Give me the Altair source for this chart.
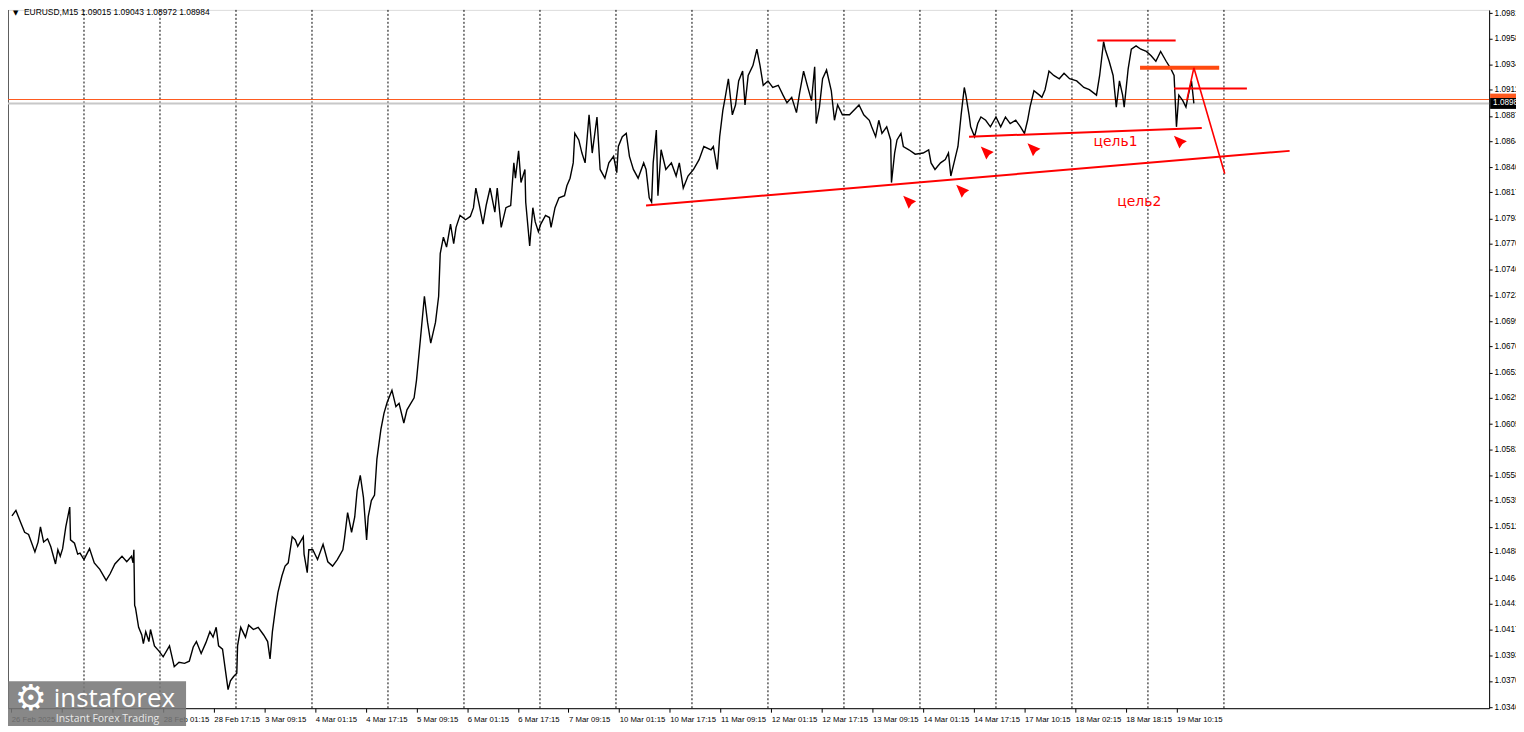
import altair as alt
import pandas as pd

# ---------------- data ----------------
# M15 bar index (time axis) and price path of EURUSD
bars = [5, 10, 16, 21, 26, 34, 38, 41, 45, 50, 54, 60, 63, 66, 69, 73, 78, 79, 84, 88, 91, 96, 103, 109, 116, 124,
        129, 135, 144, 150, 156, 158, 159, 160, 161, 165, 169, 171, 174, 178, 180, 185, 191, 196, 204, 210, 216, 223,
        229, 234, 238, 244, 250, 255, 259, 263, 266, 271, 274, 278, 281, 285, 289, 290, 294, 300, 304, 310, 316, 323,
        328, 331, 334, 338, 341, 346, 350, 354, 359, 363, 366, 373, 374, 378, 380, 385, 391, 398, 404, 410, 416, 423,
        425, 429, 434, 438, 441, 445, 449, 453, 455, 459, 463, 466, 471, 475, 479, 485, 490, 494, 500, 504, 513, 516,
        521, 526, 530, 534, 540, 544, 546, 550, 554, 559, 563, 566, 571, 578, 584, 588, 591, 596, 600, 604, 609, 615,
        618, 623, 629, 635, 639, 641, 645, 648, 653, 654, 659, 663, 666, 670, 673, 679, 684, 686, 691, 696, 703, 706,
        710, 714, 716, 721, 725, 729, 734, 738, 744, 748, 754, 759, 765, 769, 771, 776, 781, 785, 790, 796, 803, 806,
        810, 813, 815, 819, 821, 825, 831, 838, 844, 848, 853, 859, 866, 873, 879, 888, 891, 896, 899, 903, 906, 910,
        915, 919, 923, 928, 931, 935, 941, 946, 950, 954, 960, 966, 973, 979, 984, 990, 996, 1000, 1005, 1010, 1015,
        1019, 1021, 1025, 1029, 1034, 1040, 1044, 1048, 1054, 1063, 1075, 1081, 1088, 1091, 1096, 1100, 1104, 1110,
        1115, 1116, 1120, 1123, 1128, 1131, 1138, 1146, 1156, 1163, 1166, 1171, 1178, 1184, 1188, 1191, 1196, 1200,
        1204, 1208, 1210, 1214, 1216, 1221, 1225, 1229, 1235, 1241, 1248, 1254, 1260, 1266, 1273, 1279, 1284, 1288,
        1291, 1296, 1303, 1306, 1310, 1315, 1321, 1328, 1334, 1341, 1350, 1359, 1366, 1375, 1379, 1384, 1386, 1391,
        1396, 1400, 1404, 1408, 1410, 1415, 1419, 1425, 1431, 1438, 1444, 1450, 1456, 1463, 1469, 1473, 1476, 1479,
        1484, 1488, 1491, 1495, 1498]
prices = [1.0521, 1.0526, 1.0515, 1.0506, 1.0504, 1.0488, 1.0497, 1.0511, 1.0497, 1.0500, 1.0493, 1.0477, 1.0490,
          1.0484, 1.0491, 1.0511, 1.0529, 1.0499, 1.0496, 1.0486, 1.0487, 1.0481, 1.0491, 1.0478, 1.0472, 1.0462,
          1.0468, 1.0477, 1.0484, 1.0479, 1.0484, 1.0478, 1.0490, 1.0439, 1.0437, 1.0419, 1.0412, 1.0404, 1.0415,
          1.0406, 1.0417, 1.0402, 1.0397, 1.0392, 1.0402, 1.0383, 1.0387, 1.0386, 1.0388, 1.0401, 1.0406, 1.0395,
          1.0405, 1.0415, 1.0410, 1.0419, 1.0402, 1.0399, 1.0383, 1.0362, 1.0370, 1.0374, 1.0377, 1.0402, 1.0419,
          1.0410, 1.0421, 1.0417, 1.0419, 1.0412, 1.0406, 1.0390, 1.0415, 1.0437, 1.0451, 1.0466, 1.0475, 1.0478,
          1.0502, 1.0499, 1.0493, 1.0502, 1.0486, 1.0469, 1.0490, 1.0490, 1.0481, 1.0495, 1.0479, 1.0475, 1.0481,
          1.0490, 1.0500, 1.0524, 1.0506, 1.0520, 1.0544, 1.0558, 1.0538, 1.0499, 1.0520, 1.0535, 1.0540, 1.0573,
          1.0600, 1.0615, 1.0625, 1.0636, 1.0621, 1.0624, 1.0606, 1.0618, 1.0629, 1.0645, 1.0683, 1.0722, 1.0698,
          1.0679, 1.0698, 1.0722, 1.0761, 1.0776, 1.0767, 1.0788, 1.0770, 1.0785, 1.0796, 1.0792, 1.0795, 1.0803,
          1.0821, 1.0803, 1.0788, 1.0805, 1.0821, 1.0799, 1.0821, 1.0785, 1.0803, 1.0805, 1.0844, 1.0830, 1.0855,
          1.0826, 1.0838, 1.0808, 1.0768, 1.0803, 1.0790, 1.0781, 1.0788, 1.0796, 1.0794, 1.0785, 1.0803, 1.0812,
          1.0814, 1.0823, 1.0830, 1.0844, 1.0871, 1.0865, 1.0853, 1.0844, 1.0888, 1.0853, 1.0886, 1.0838, 1.0830,
          1.0844, 1.0850, 1.0835, 1.0859, 1.0868, 1.0871, 1.0850, 1.0838, 1.0830, 1.0844, 1.0838, 1.0812, 1.0808,
          1.0844, 1.0874, 1.0814, 1.0856, 1.0838, 1.0844, 1.0832, 1.0844, 1.0821, 1.0832, 1.0838, 1.0847, 1.0859,
          1.0856, 1.0859, 1.0838, 1.0868, 1.0892, 1.0904, 1.0921, 1.0888, 1.0897, 1.0919, 1.0928, 1.0897, 1.0924,
          1.0933, 1.0948, 1.0933, 1.0915, 1.0919, 1.0913, 1.0915, 1.0906, 1.0899, 1.0904, 1.0890, 1.0908, 1.0928,
          1.0914, 1.0901, 1.0932, 1.0880, 1.0895, 1.0921, 1.0929, 1.0910, 1.0883, 1.0897, 1.0888, 1.0888, 1.0897,
          1.0888, 1.0883, 1.0877, 1.0868, 1.0883, 1.0871, 1.0877, 1.0865, 1.0826, 1.0853, 1.0865, 1.0871, 1.0859,
          1.0856, 1.0852, 1.0853, 1.0856, 1.0844, 1.0838, 1.0844, 1.0847, 1.0853, 1.0832, 1.0847, 1.0859, 1.0888,
          1.0913, 1.0906, 1.0888, 1.0877, 1.0868, 1.0880, 1.0886, 1.0883, 1.0877, 1.0886, 1.0877, 1.0886, 1.0880,
          1.0883, 1.0877, 1.0871, 1.0883, 1.0895, 1.0910, 1.0906, 1.0904, 1.0911, 1.0928, 1.0924, 1.0921, 1.0926,
          1.0921, 1.0919, 1.0913, 1.0911, 1.0906, 1.0924, 1.0955, 1.0948, 1.0937, 1.0924, 1.0895, 1.0919, 1.0906,
          1.0895, 1.0930, 1.0948, 1.0951, 1.0948, 1.0946, 1.0942, 1.0937, 1.0946, 1.0937, 1.0930, 1.0924, 1.0877,
          1.0906, 1.0901, 1.0895, 1.0906, 1.0919, 1.08984]

# time-axis labels (every 64 M15 bars)
x_labels = ["26 Feb 2025", "26 Feb 17:15", "27 Feb 09:15", "28 Feb 01:15", "28 Feb 17:15", "3 Mar 09:15",
            "4 Mar 01:15", "4 Mar 17:15", "5 Mar 09:15", "6 Mar 01:15", "6 Mar 17:15", "7 Mar 09:15",
            "10 Mar 01:15", "10 Mar 17:15", "11 Mar 09:15", "12 Mar 01:15", "12 Mar 17:15", "13 Mar 09:15",
            "14 Mar 01:15", "14 Mar 17:15", "17 Mar 10:15", "18 Mar 02:15", "18 Mar 18:15", "19 Mar 10:15"]
x_label_bars = [4 + 64 * j for j in range(len(x_labels))]
# day separators (dotted grid)
grid_bars = [96 * k for k in range(1, 17)]
# price-axis labels
y_labels = [1.0981, 1.0958, 1.0934, 1.0911, 1.0887, 1.0864, 1.0840, 1.0817, 1.0793, 1.0770, 1.0746, 1.0723,
            1.0699, 1.0676, 1.0652, 1.0629, 1.0605, 1.0582, 1.0558, 1.0535, 1.0511, 1.0488, 1.0464, 1.0441,
            1.0417, 1.0393, 1.0370, 1.0346]

bid_price = 1.08984
ask_line = 1.0902

# drawn objects: thin red segments (bar1, price1, bar2, price2)
red_seg_x1 = [806, 1214, 1376, 1473]
red_seg_y1 = [1.0805, 1.0868, 1.0956, 1.0912]
red_seg_x2 = [1619, 1508, 1475, 1565]
red_seg_y2 = [1.0855, 1.0876, 1.0956, 1.0912]
# thick orange level
orange_x1, orange_x2, orange_y = 1430, 1530, 1.0931
# projected move polyline
proj_bars = [1489, 1498, 1537]
proj_prices = [1.0901, 1.0931, 1.0834]
# arrow markers
arrow_bars = [1139, 1206, 1237, 1296, 1481]
arrow_prices = [1.0808, 1.0818, 1.0853, 1.0856, 1.0863]
# target labels
target_text = ["цель1", "цель2"]
target_bars = [1399, 1429]
target_prices = [1.0859, 1.0805]

# ---------------- chart ----------------
W, H = 1489, 702
XMAX = 1871
YMIN, YMAX = 1.0345, 1.0984
FONT = "Liberation Sans"

xs = alt.Scale(domain=[0, XMAX], nice=False, zero=False)
ys = alt.Scale(domain=[YMIN, YMAX], nice=False, zero=False)

label_expr = "[" + ",".join("'%s'" % t for t in x_labels) + "][round((datum.value-4)/64)]"

x_axis = alt.Axis(values=x_label_bars, labelExpr=label_expr, orient="bottom", labelAlign="left",
                  labelPadding=3, tickSize=4, labelFont=FONT, labelFontSize=7.8, labelColor="black",
                  domainColor="black", tickColor="black", grid=False, title=None, labelOverlap=False,
                  labelBound=False, labelFlush=False)
y_axis = alt.Axis(values=y_labels, format=".4f", orient="right", tickSize=3, labelPadding=2,
                  labelFont=FONT, labelFontSize=8.2, labelColor="black", domainColor="black",
                  tickColor="black", grid=False, title=None, labelOverlap=False, labelBound=False,
                  labelFlush=False)


def X(field):
    return alt.X(field, scale=xs, axis=x_axis, title=None)


def Y(field):
    return alt.Y(field, scale=ys, axis=y_axis, title=None)


price_df = pd.DataFrame({"t": bars, "p": prices})

grid = alt.Chart(pd.DataFrame({"t": grid_bars})).mark_rule(
    color="black", strokeDash=[2, 2], strokeWidth=1).encode(x=X("t:Q"))

left_border = alt.Chart(pd.DataFrame({"t": [0]})).mark_rule(color="#333333", strokeWidth=1.5).encode(
    x=X("t:Q"))

hlines = alt.Chart(pd.DataFrame({"p": [bid_price, ask_line], "c": ["#c8c8c8", "#ff5a1e"],
                                 "w": [2, 1]})).mark_rule().encode(
    y=Y("p:Q"),
    color=alt.Color("c:N", scale=None),
    strokeWidth=alt.StrokeWidth("w:Q", scale=None))

line = alt.Chart(price_df).mark_line(color="black", strokeWidth=1.4, interpolate="linear").encode(
    x=X("t:Q"), y=Y("p:Q"))

segs = alt.Chart(pd.DataFrame({"t": red_seg_x1, "p": red_seg_y1, "t2": red_seg_x2, "p2": red_seg_y2})
                 ).mark_rule(color="#ff0000", strokeWidth=2).encode(
    x=X("t:Q"), x2="t2:Q", y=Y("p:Q"), y2="p2:Q")

orange = alt.Chart(pd.DataFrame({"t": [orange_x1], "t2": [orange_x2], "p": [orange_y]})).mark_rule(
    color="#ff4a10", strokeWidth=4).encode(x=X("t:Q"), x2="t2:Q", y=Y("p:Q"))

proj = alt.Chart(pd.DataFrame({"t": proj_bars, "p": proj_prices, "o": [0, 1, 2]})).mark_line(
    color="#ff0000", strokeWidth=1.6).encode(x=X("t:Q"), y=Y("p:Q"), order="o:Q")

arrow_path = "M-1,-1L1,-0.15L0.3,0.3L-0.15,1Z"
arrows = alt.Chart(pd.DataFrame({"t": arrow_bars, "p": arrow_prices})).mark_point(
    shape=arrow_path, filled=True, color="#ff0000", opacity=1, size=170, strokeWidth=0).encode(
    x=X("t:Q"), y=Y("p:Q"))

targets = alt.Chart(pd.DataFrame({"t": target_bars, "p": target_prices, "s": target_text})).mark_text(
    color="#ff0000", font="DejaVu Sans", fontSize=14, align="center", baseline="alphabetic").encode(
    x=X("t:Q"), y=Y("p:Q"), text="s:N")

# current price box on the price scale
box_ask = alt.Chart(pd.DataFrame({"p": [bid_price + 0.0005], "p2": [bid_price + 0.0009]})).mark_rect(
    color="#ff5a1e").encode(x=alt.value(W + 1), x2=alt.value(W + 27), y=Y("p:Q"), y2="p2:Q")
box = alt.Chart(pd.DataFrame({"p": [bid_price - 0.0005], "p2": [bid_price + 0.0005]})).mark_rect(
    color="black").encode(x=alt.value(W + 1), x2=alt.value(W + 27), y=Y("p:Q"), y2="p2:Q")
box_txt = alt.Chart(pd.DataFrame({"p": [bid_price], "s": ["1.0898"]})).mark_text(
    color="white", font=FONT, fontSize=8.2, align="left", baseline="middle").encode(
    x=alt.value(W + 4), y=Y("p:Q"), text="s:N")

# header text
header = alt.Chart(pd.DataFrame({"s": ["EURUSD,M15  1.09015 1.09043 1.08972 1.08984"]})).mark_text(
    color="black", font=FONT, fontSize=8.5, align="left", baseline="alphabetic").encode(
    x=alt.value(16), y=alt.value(5), text="s:N")
header_tri = alt.Chart(pd.DataFrame({"s": ["▼"]})).mark_text(
    color="black", font="DejaVu Sans", fontSize=7, align="left", baseline="alphabetic").encode(
    x=alt.value(5), y=alt.value(5), text="s:N")

# watermark
wm_rect = alt.Chart(pd.DataFrame({"a": [0]})).mark_rect(color="#777777", opacity=0.88).encode(
    x=alt.value(0), x2=alt.value(179), y=alt.value(675), y2=alt.value(720))
wm_gear = alt.Chart(pd.DataFrame({"s": ["⚙"]})).mark_text(
    color="white", font="DejaVu Sans", fontSize=36, align="center", baseline="middle").encode(
    x=alt.value(23), y=alt.value(693), text="s:N")
wm_big = alt.Chart(pd.DataFrame({"s": ["instaforex"]})).mark_text(
    color="white", font="Open Sans", fontSize=26, align="left", baseline="alphabetic").encode(
    x=alt.value(46), y=alt.value(701), text="s:N")
wm_small = alt.Chart(pd.DataFrame({"s": ["Instant Forex Trading"]})).mark_text(
    color="#e8e8e8", font="Open Sans", fontSize=10.5, align="left", baseline="alphabetic").encode(
    x=alt.value(48), y=alt.value(716), text="s:N")

chart = alt.layer(
    grid, left_border, hlines, line, segs, orange, proj, arrows, targets,
    box_ask, box, box_txt, header, header_tri, wm_rect, wm_gear, wm_big, wm_small
).properties(
    width=W, height=H,
    autosize=alt.AutoSizeParams(type="none"),
    padding={"left": 0, "top": 0, "right": 27, "bottom": 18},
    background="white",
).configure_view(strokeWidth=0, stroke="transparent").configure(font=FONT)

chart.save("out.html", embed_options={"renderer": "svg", "actions": False})
